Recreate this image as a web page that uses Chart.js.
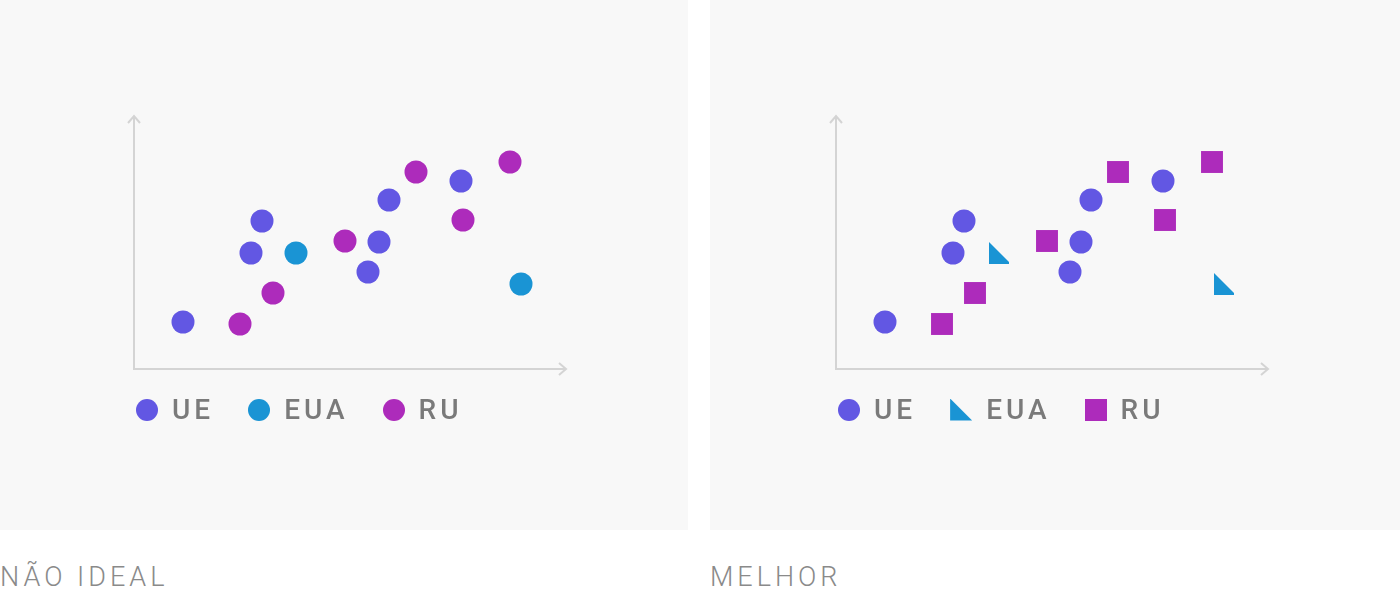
<!DOCTYPE html>
<html>
<head>
<meta charset="utf-8">
<script src="https://cdn.jsdelivr.net/npm/chart.js@4"></script>
<style>
  body { margin: 0; background: #fff; font-family: Roboto, "Noto Sans", sans-serif; }
  .panel { position: absolute; top: 0; height: 530px; background: #f8f8f8; }
  .panel canvas { position: absolute; left: 0; top: 0; }
  .caption { position: absolute; top: 561px; font-size: 27px; letter-spacing: 4px; color: #8a8a8a; font-weight: 300; }
  .legend { position: absolute; top: 393px; display: flex; align-items: center; font-size: 28px; font-weight: 500; letter-spacing: 4px; color: #7a7a7a; }
  .legend .item { display: flex; align-items: center; margin-right: 34px; }
  .legend .mk { width: 22px; height: 22px; margin-right: 14px; }
</style>
</head>
<body>
<div class="panel" id="p1" style="left:0;width:688px"><canvas id="c1"></canvas></div>
<div class="panel" id="p2" style="left:710px;width:690px"><canvas id="c2"></canvas></div>
<div class="caption" style="left:0">NÃO IDEAL</div>
<div class="caption" style="left:710px">MELHOR</div>
<script>
const seriesNames = ['UE', 'EUA', 'RU'];
const colors = ['#6257e3', '#1a94d4', '#ad2bbb'];
const ueX = [49, 117, 128, 234, 245, 255, 327];
const ueY = [47, 116, 148, 97, 127, 169, 188];
const euaX = [162, 387];
const euaY = [116, 85];
const ruX = [106, 139, 211, 282, 329, 376];
const ruY = [45, 76, 128, 197, 149, 207];

function pts(xs, ys) { return xs.map((x, i) => ({ x: x, y: ys[i] })); }

function triCanvas(size, color) {
  const c = document.createElement('canvas');
  c.width = size; c.height = size;
  const g = c.getContext('2d');
  g.fillStyle = color;
  g.beginPath(); g.moveTo(2, 0); g.lineTo(size, size - 2); g.lineTo(size, size); g.lineTo(2, size); g.closePath();
  g.fill();
  return c;
}

const axesPlugin = {
  id: 'axes',
  beforeDatasetsDraw(chart) {
    const a = chart.chartArea, ctx = chart.ctx;
    ctx.save();
    ctx.strokeStyle = '#d4d4d4'; ctx.lineWidth = 2;
    ctx.beginPath();
    ctx.moveTo(a.left, a.top); ctx.lineTo(a.left, a.bottom); ctx.lineTo(a.right, a.bottom);
    ctx.moveTo(a.left - 6, a.top + 7); ctx.lineTo(a.left, a.top); ctx.lineTo(a.left + 6, a.top + 7);
    ctx.moveTo(a.right - 7, a.bottom - 6); ctx.lineTo(a.right, a.bottom); ctx.lineTo(a.right - 7, a.bottom + 6);
    ctx.stroke();
    ctx.restore();
  }
};

function makeChart(id, w, left, styles, sizes) {
  const data = [pts(ueX, ueY), pts(euaX, euaY), pts(ruX, ruY)];
  new Chart(document.getElementById(id), {
    type: 'scatter',
    data: {
      datasets: seriesNames.map((n, i) => ({
        label: n, data: data[i], backgroundColor: colors[i], borderWidth: 0,
        pointStyle: styles[i], pointRadius: sizes[i], pointHoverRadius: sizes[i], clip: false
      }))
    },
    options: {
      responsive: false, animation: false, events: [],
      layout: { padding: { left: left, right: w - left - 432, top: 116, bottom: 161 } },
      scales: { x: { display: false, min: 0, max: 432 }, y: { display: false, min: 0, max: 253 } },
      plugins: { legend: { display: false }, tooltip: { enabled: false } }
    },
    plugins: [axesPlugin]
  });
}

function setup(id, w) { const c = document.getElementById(id); c.width = w; c.height = 530; c.style.width = w + 'px'; c.style.height = '530px'; }
setup('c1', 688); setup('c2', 690);
makeChart('c1', 688, 134, ['circle', 'circle', 'circle'], [11.5, 11.5, 11.5]);
const tri = triCanvas(22, colors[1]);
makeChart('c2', 690, 126, ['circle', tri, 'rect'], [11.5, 11, 15.5]);

function legend(panel, left, shapes) {
  const d = document.createElement('div'); d.className = 'legend';
  d.style.left = left + 'px';
  seriesNames.forEach((n, i) => {
    let mk;
    if (shapes[i] === 'circle') mk = `<span class="mk" style="background:${colors[i]};border-radius:50%"></span>`;
    else if (shapes[i] === 'rect') mk = `<span class="mk" style="background:${colors[i]}"></span>`;
    else mk = `<span class="mk" style="background:${colors[i]};clip-path:polygon(0 0,100% 100%,0 100%)"></span>`;
    d.innerHTML += `<span class="item">${mk}${n}</span>`;
  });
  document.getElementById(panel).appendChild(d);
}
legend('p1', 136, ['circle', 'circle', 'circle']);
legend('p2', 128, ['circle', 'tri', 'rect']);
</script>
</body>
</html>
